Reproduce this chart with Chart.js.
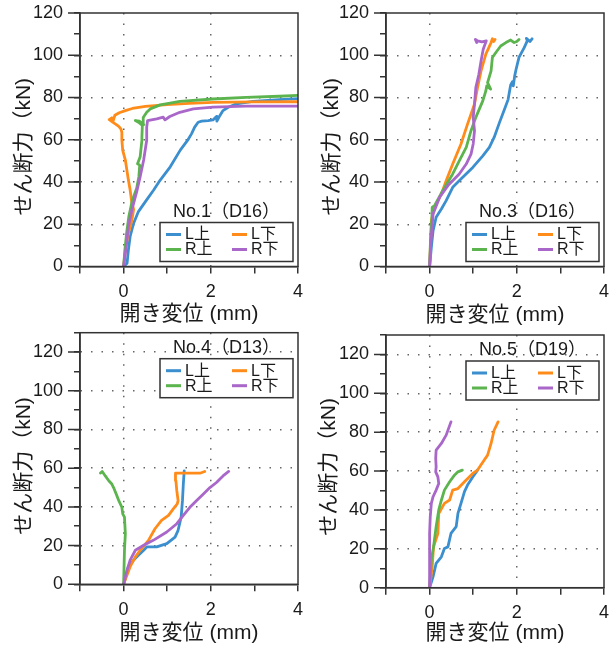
<!DOCTYPE html>
<html>
<head>
<meta charset="utf-8">
<script src="https://cdn.jsdelivr.net/npm/chart.js@4.4.1/dist/chart.umd.min.js"></script>
<style>
html,body{margin:0;padding:0;background:#fff;overflow:hidden;}
body{width:616px;height:651px;position:relative;overflow:hidden;}
canvas{position:absolute;}
</style>
</head>
<body>
<canvas id="c1"></canvas>
<canvas id="c2"></canvas>
<canvas id="c3"></canvas>
<canvas id="c4"></canvas>
<script>
// ---------- data ----------
const seriesNames = ['L上', 'L下', 'R上', 'R下'];
const seriesColors = ['#3b8fcf', '#ff8c1a', '#5cb44e', '#a967c9'];
const panelTitles = ['No.1（D16）', 'No.3（D16）', 'No.4（D13）', 'No.5（D19）'];
const xTickLabeled = [0, 2, 4];
const xGridValues = [0, 2];
const yGridValues = [20, 40, 60, 80, 100, 120];
const yMaxes = [120, 120, 130, 130];
const xTitle = '開き変位 (mm)';
const yTitle = 'せん断力（kN)';

// No.1 (D16)  [opening displacement mm, shear kN]
const no1_Lup = [[0,0],[0.08,1.6],[0.11,7.9],[0.15,14.2],[0.23,20.5],[0.34,26],[0.5,30.7],[0.69,36.2],[0.84,40.9],[1.07,47.2],[1.3,55.1],[1.47,59.8],[1.56,62.9],[1.63,66],[1.71,68.3],[1.79,68.8],[1.94,69.1],[2.05,69.4],[2.13,71],[2.14,68.8],[2.21,71.5],[2.28,73.8],[2.4,75.4],[2.59,77],[2.97,78.2],[3.57,79],[4,79.5]];
const no1_Ldown = [[0,0],[0.04,7.9],[0.11,15.7],[0.19,22],[0.23,27],[0.19,30],[0.15,36.2],[0.11,40.9],[0.08,45],[0.04,50.4],[-0.02,55],[-0.04,59.8],[-0.04,63.5],[-0.06,65],[-0.11,66.3],[-0.25,68.3],[-0.33,69.5],[-0.27,70.4],[-0.24,68.9],[-0.2,71.6],[-0.1,72.8],[0.04,73.8],[0.2,74.8],[0.5,75.8],[1.0,76.6],[1.5,77.2],[2.05,77.7],[3,77.9],[4,78]];
const no1_Rup = [[0,0],[0.03,8],[0.07,16],[0.12,23.6],[0.2,31.4],[0.3,37],[0.35,42.5],[0.37,48],[0.32,48.6],[0.38,52],[0.42,59.8],[0.42,61.3],[0.43,66.8],[0.34,68.3],[0.27,69.1],[0.36,68.8],[0.46,67.2],[0.45,70.5],[0.53,73],[0.61,74.6],[0.84,76.5],[1.29,78.2],[2.05,79.3],[2.81,80.1],[3.57,80.6],[4,81]];
const no1_Rdown = [[0,0],[0.06,9.4],[0.11,18.9],[0.19,26.8],[0.31,36.2],[0.38,42.5],[0.46,50.4],[0.53,59.8],[0.53,66],[0.55,69.1],[0.76,69.9],[0.91,70.7],[0.95,69.4],[1.06,71],[1.29,73],[1.6,74.6],[2.05,75.4],[2.81,75.9],[4,75.9]];

// No.3 (D16)
const no3_Lup = [[0,0],[0.04,9.1],[0.08,17],[0.15,23.3],[0.27,27.2],[0.38,31.2],[0.53,37.5],[0.76,42.2],[0.99,46.9],[1.22,52.4],[1.37,56.4],[1.48,61.1],[1.6,68],[1.72,74.5],[1.8,79],[1.86,86],[1.9,87.5],[1.92,85.5],[1.95,90],[1.98,93],[2.05,99],[2.17,103.6],[2.24,106.8],[2.22,108],[2.3,106.5],[2.35,107.8]];
const no3_Ldown = [[0,0],[0.02,10],[0.04,21.7],[0.11,28],[0.27,34.3],[0.38,40.6],[0.53,48.5],[0.72,58],[0.87,67.4],[1.03,76.9],[1.1,84.7],[1.18,92.6],[1.29,100.5],[1.41,106],[1.44,107.8],[1.47,106.5],[1.5,107.5]];
const no3_Rup = [[0,0],[0.02,12],[0.05,22],[0.06,28],[0.12,29],[0.3,35.9],[0.53,43.8],[0.68,50],[0.84,56.4],[0.95,64.3],[1.06,70.6],[1.22,78.4],[1.29,83.1],[1.31,85.5],[1.4,84],[1.33,87],[1.41,92.6],[1.44,98.9],[1.52,101.3],[1.63,104.4],[1.75,106],[1.86,107.2],[1.94,106],[2.0,106.5],[2.05,107.5]];
const no3_Rdown = [[0,0],[0.03,12],[0.08,24.9],[0.23,32.8],[0.42,38.3],[0.68,43.8],[0.84,48.5],[0.95,53.2],[1.0,58],[1.03,64.3],[1.0,70.6],[1.03,76.9],[1.06,84.7],[1.13,91],[1.18,97.3],[1.23,102.8],[1.3,106.8],[1.2,106.3],[1.1,106.8],[1.05,107.5],[1.08,106]];

// No.4 (D13)
const no4_Lup = [[0,0],[0.11,9.1],[0.23,12.5],[0.34,15],[0.46,17.6],[0.53,19.3],[0.76,19.3],[0.99,21],[1.18,24.4],[1.25,27.9],[1.32,34.7],[1.35,43.2],[1.37,51.8],[1.39,58.6]];
const no4_Ldown = [[0,0],[0.15,9.1],[0.27,14.2],[0.38,17.6],[0.57,22.7],[0.72,28.7],[0.87,33],[1.03,35.6],[1.14,39],[1.23,41.5],[1.25,43.2],[1.22,48.4],[1.2,53.5],[1.19,57.4],[1.44,57.4],[1.75,57.4],[1.86,58.3]];
const no4_Rup = [[0,0],[0.02,17.6],[0.04,26.2],[0.02,34.7],[-0.02,36.4],[-0.04,39.8],[-0.11,43.2],[-0.17,46.7],[-0.23,50],[-0.27,51.8],[-0.34,53.5],[-0.42,56],[-0.49,58.3],[-0.53,57.5]];
const no4_Rdown = [[0,0],[0.08,7.4],[0.15,12.5],[0.27,17.6],[0.46,20.2],[0.68,22.7],[0.99,27],[1.22,31.3],[1.37,35.6],[1.52,39.8],[1.67,43.2],[1.83,46.7],[1.98,50],[2.13,52.6],[2.28,56],[2.41,58.3]];

// No.5 (D19)
const no5_Lup = [[0,0],[0.08,5.7],[0.15,12.5],[0.27,15.9],[0.34,20.2],[0.42,21],[0.49,27.9],[0.61,31.4],[0.65,38.2],[0.72,43.4],[0.8,49.4],[0.87,52.8],[0.99,57],[1.1,60.5]];
const no5_Ldown = [[0,0],[0.06,10.8],[0.09,21],[0.19,27.9],[0.21,38.2],[0.34,43.4],[0.46,45.1],[0.53,50.2],[0.65,51],[0.8,54.5],[0.99,58.8],[1.1,60.5],[1.25,65.6],[1.33,68.2],[1.41,74.2],[1.48,81],[1.57,85.3]];
const no5_Rup = [[0,0],[0.04,14.2],[0.09,21],[0.15,31.4],[0.21,40],[0.27,45],[0.34,50.2],[0.46,54.5],[0.57,57.9],[0.65,59.6],[0.75,60.5]];
const no5_Rdown = [[0,0],[0,14.2],[0,27.9],[0.015,36.5],[0.04,43.4],[0.08,46.8],[0.15,50.2],[0.21,53.6],[0.19,57],[0.14,59.6],[0.15,62.2],[0.14,66.5],[0.15,70.8],[0.27,74.2],[0.38,78.5],[0.49,85.3]];

const panelSeries = [
  [no1_Lup, no1_Ldown, no1_Rup, no1_Rdown],
  [no3_Lup, no3_Ldown, no3_Rup, no3_Rdown],
  [no4_Lup, no4_Ldown, no4_Rup, no4_Rdown],
  [no5_Lup, no5_Ldown, no5_Rup, no5_Rdown]
];

// ---------- layout (page pixels) ----------
const FONT = '"Liberation Sans", "Noto Sans CJK JP", Arial, sans-serif';
const TEXT = '#1a1a1a';
const AXIS = '#333333';
const geoms = [
  {L:80,  R:298, T:13,    B:266.5, yTitleX:24,  yTitleShift:7,   xTitleY:314, legendTop:false},
  {L:386, R:604, T:13,    B:266.5, yTitleX:332, yTitleShift:7,   xTitleY:315, legendTop:false},
  {L:80,  R:298, T:332.7, B:584.3, yTitleX:24,  yTitleShift:7.5, xTitleY:633, legendTop:true},
  {L:386, R:604, T:335,   B:587.7, yTitleX:329, yTitleShift:5.5, xTitleY:633, legendTop:true}
];
geoms.forEach(g => {
  g.x0 = g.L - 80;
  g.y0 = Math.floor(g.T - 30);
  g.w = Math.ceil(g.R + 20 - g.x0);
  g.h = Math.ceil(g.xTitleY + 22 - g.y0);
});

const decoPlugin = {
  id: 'deco',
  afterDatasetsDraw(chart, args, opts) {
    const ctx = chart.ctx;
    const ca = chart.chartArea;
    const ys = chart.scales.y;
    ctx.save();
    ctx.setLineDash([]);
    // frame
    ctx.strokeStyle = AXIS;
    ctx.lineWidth = 1.5;
    ctx.strokeRect(ca.left, ca.top, ca.right - ca.left, ca.bottom - ca.top);
    // longer (major) ticks on y
    ctx.beginPath();
    for (let v = 0; v <= ys.max; v += 20) {
      const py = ys.getPixelForValue(v);
      ctx.moveTo(ca.left - 12, py);
      ctx.lineTo(ca.left, py);
    }
    ctx.stroke();
    // y axis title (rotated)
    ctx.save();
    ctx.translate(opts.yTitleX, (ca.top + ca.bottom) / 2 + opts.yTitleShift);
    ctx.rotate(-Math.PI / 2);
    ctx.fillStyle = TEXT;
    ctx.font = '21px ' + FONT;
    ctx.textAlign = 'center';
    ctx.textBaseline = 'middle';
    ctx.fillText(yTitle, 0, 0);
    ctx.restore();
    // legend box
    const bx = ca.left + 80, bw = ca.right - 5 - bx, bh = 39;
    const by = opts.top ? ca.top + 26 : ca.bottom - 5 - bh;
    const titleY = opts.top ? ca.top + 15 : by - 10.5;
    ctx.fillStyle = TEXT;
    ctx.font = '18px ' + FONT;
    ctx.textAlign = 'center';
    ctx.textBaseline = 'middle';
    ctx.fillText(opts.title, bx + bw / 2, titleY);
    ctx.fillStyle = '#fff';
    ctx.fillRect(bx, by, bw, bh);
    ctx.strokeStyle = AXIS;
    ctx.lineWidth = 1.5;
    ctx.strokeRect(bx, by, bw, bh);
    ctx.font = '16px ' + FONT;
    ctx.textAlign = 'left';
    const ds = chart.data.datasets;
    const cols = [6, 72];
    const rows = [12, 27];
    ds.forEach((d, i) => {
      const c = i % 2, r = Math.floor(i / 2);
      const lx = bx + cols[c], ly = by + rows[r];
      ctx.strokeStyle = d.borderColor;
      ctx.lineWidth = 3;
      ctx.beginPath();
      ctx.moveTo(lx, ly);
      ctx.lineTo(lx + 15, ly);
      ctx.stroke();
      ctx.fillStyle = TEXT;
      ctx.fillText(d.label, lx + 19, ly + 0.5);
    });
    ctx.restore();
  }
};

function makePanel(i) {
  const g = geoms[i];
  const canvas = document.getElementById('c' + (i + 1));
  canvas.width = g.w; canvas.height = g.h;
  canvas.style.left = g.x0 + 'px';
  canvas.style.top = g.y0 + 'px';
  const plotT = g.T - g.y0, plotB = g.B - g.y0, plotR = g.R - g.x0, plotL = g.L - g.x0;
  const datasets = panelSeries[i].map((pts, k) => ({
    label: seriesNames[k],
    data: pts.map(p => ({x: p[0], y: p[1]})),
    showLine: true,
    borderColor: seriesColors[k],
    backgroundColor: seriesColors[k],
    borderWidth: 2.8,
    pointRadius: 0,
    pointHoverRadius: 0,
    tension: 0,
    borderJoinStyle: 'round',
    borderCapStyle: 'round',
    order: 3 - k
  }));
  new Chart(canvas, {
    type: 'scatter',
    data: {datasets},
    options: {
      responsive: false,
      animation: false,
      events: [],
      layout: {padding: {left: 0, top: plotT, right: g.w - plotR, bottom: 0}},
      plugins: {
        legend: {display: false},
        tooltip: {enabled: false},
        deco: {title: panelTitles[i], top: g.legendTop, yTitleX: g.yTitleX - g.x0, yTitleShift: g.yTitleShift}
      },
      scales: {
        x: {
          type: 'linear', min: -1, max: 4,
          ticks: {
            stepSize: 1, autoSkip: false, maxRotation: 0, padding: 8,
            color: TEXT, font: {family: FONT, size: 18},
            callback: v => xTickLabeled.includes(v) ? String(v) : ''
          },
          grid: {
            color: c => (c.tick && xGridValues.includes(c.tick.value)) ? '#666666' : 'rgba(0,0,0,0)',
            lineWidth: 1.5, drawTicks: true, tickLength: 7,
            tickColor: AXIS, tickWidth: 1.5, tickBorderDash: []
          },
          border: {display: true, color: AXIS, width: 1.5, dash: [1.5, 9]},
          title: {
            display: true, text: xTitle, color: TEXT,
            font: {family: FONT, size: 21, lineHeight: 1.2},
            padding: {top: 0, bottom: (g.y0 + g.h) - g.xTitleY - 12.6}
          },
          afterFit: s => { s.height = g.h - plotB; }
        },
        y: {
          type: 'linear', min: 0, max: yMaxes[i],
          ticks: {
            stepSize: 10, autoSkip: false, padding: 11,
            color: TEXT, font: {family: FONT, size: 18},
            callback: v => (v % 20 === 0) ? String(v) : ''
          },
          grid: {
            color: c => (c.tick && yGridValues.includes(c.tick.value) && c.tick.value < yMaxes[i]) ? '#666666' : 'rgba(0,0,0,0)',
            lineWidth: 1.5, drawTicks: true, tickLength: 6,
            tickColor: AXIS, tickWidth: 1.5, tickBorderDash: []
          },
          border: {display: true, color: AXIS, width: 1.5, dash: [1.5, 9]},
          title: {display: false, text: yTitle},
          afterFit: s => { s.width = plotL; }
        }
      }
    },
    plugins: [decoPlugin]
  });
}

[0, 1, 2, 3].forEach(makePanel);
</script>
</body>
</html>
